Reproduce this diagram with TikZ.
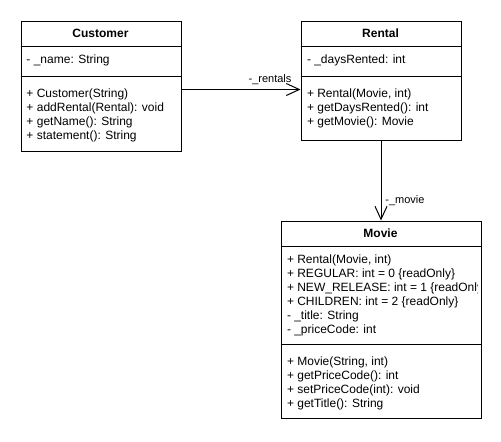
\documentclass[tikz,border=0pt]{standalone}
\usepackage{fontspec}
\setmainfont{Liberation Sans}
\usetikzlibrary{arrows.meta}

\begin{document}
\begin{tikzpicture}[x=1pt, y=-1pt, line width=1pt,
  classbox/.style={draw, anchor=north west, inner sep=0pt},
  member/.style={anchor=west, inner sep=0pt, text height=9pt, text depth=3pt, font=\fontsize{12}{14}\selectfont},
  classname/.style={inner sep=0pt, text height=9pt, text depth=3pt, font=\fontsize{12}{14}\selectfont\bfseries},
  edgelabel/.style={inner sep=0pt, text height=8pt, text depth=3pt, font=\fontsize{11}{13}\selectfont},
  assoc/.style={-{Straight Barb[length=13pt, width=12pt]}}]
  \useasboundingbox (0,0) rectangle (501,442);

  % Customer
  \node[classbox, minimum width=160pt, minimum height=130pt] (customer) at (20.5,20.5) {};
  \draw (20.5,46) -- (180.5,46);
  \draw (20.5,76) -- (180.5,76);
  \node[classname] (customer-name) at (100.5,34) {Customer};
  \node[member] (cust-attr) at (26,60) {- \_name: String};
  \foreach \m [count=\i] in {+ Customer(String), + addRental(Rental): void, + getName(): String, + statement(): String}
  {
  \node[member] (cust-op\i) at (26, 80+14*\i) {\m};
  }

  % Rental
  \node[classbox, minimum width=160pt, minimum height=119pt] (rental) at (300.5,20.5) {};
  \draw (300.5,46) -- (460.5,46);
  \draw (300.5,76) -- (460.5,76);
  \node[classname] (rental-name) at (380.5,34) {Rental};
  \node[member] (rental-attr) at (306.5,60) {- \_daysRented: int};
  \foreach \m [count=\i] in {{+ Rental(Movie, int)}, + getDaysRented(): int, + getMovie(): Movie}
  {
  \node[member] (rental-op\i) at (306.5, 80+14*\i) {\m};
  }

  % Movie
  \node[classbox, minimum width=200pt, minimum height=197.5pt] (movie) at (280.5,220.5) {};
  \draw (280.5,246) -- (480.5,246);
  \draw (280.5,344.5) -- (480.5,344.5);
  \node[classname] (movie-name) at (380.5,234) {Movie};
  \begin{scope}
  \clip (281,247) rectangle (477,344);
  \foreach \m [count=\i] in {{+ Rental(Movie, int)}, + REGULAR: int = 0 \{readOnly\}, + NEW\_RELEASE: int = 1 \{readOnly\}, + CHILDREN: int = 2 \{readOnly\}, - \_title: String, - \_priceCode: int}
  {
  \node[member] (movie-attr\i) at (286.5, 246+14*\i) {\m};
  }
  \end{scope}
  \foreach \m [count=\i] in {{+ Movie(String, int)}, + getPriceCode(): int, + setPriceCode(int): void, + getTitle(): String}
  {
  \node[member] (movie-op\i) at (286.5, 348+14*\i) {\m};
  }

  % associations
  \coordinate (rentals-y) at (0,89.5);
  \draw[assoc] (customer.east |- rentals-y) -- (rental.west |- rentals-y);
  \node[edgelabel] (rentals-label) at (270,80) {-\_rentals};
  \draw[assoc] (rental.south) -- (movie.north);
  \node[edgelabel] (movie-label) at (405,201) {-\_movie};

\end{tikzpicture}
\end{document}
